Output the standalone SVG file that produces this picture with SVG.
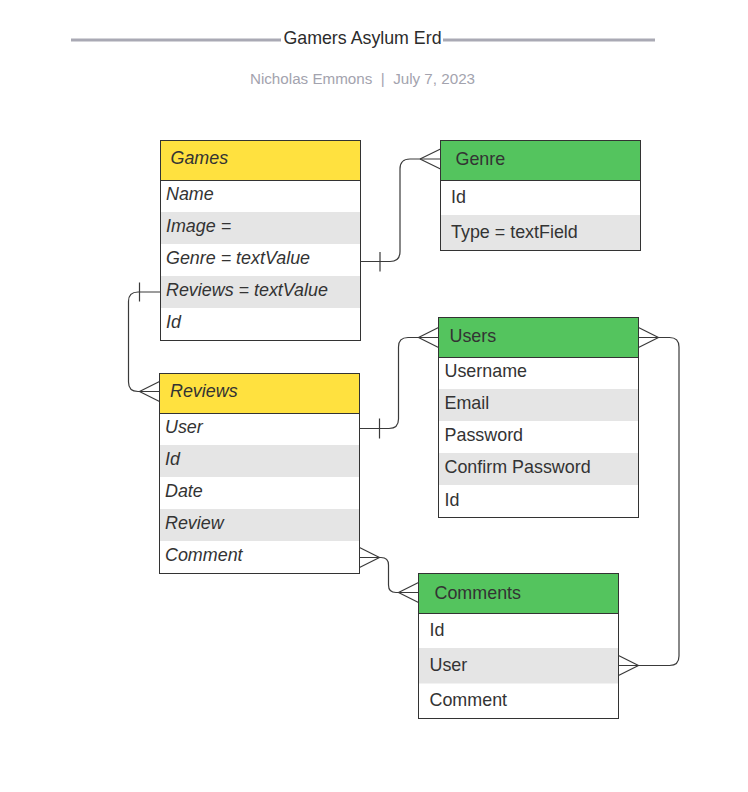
<svg xmlns="http://www.w3.org/2000/svg" width="748" height="792" viewBox="0 0 748 792">
<style>
  .t{font-family:"Liberation Sans",Arial,sans-serif;font-size:17.9px;fill:#333333}
  .i{font-style:italic}
  .box{fill:#ffffff;stroke:#333333;stroke-width:1}
  .hy{fill:#ffe13f;stroke:#333333;stroke-width:1}
  .hg{fill:#54c45e;stroke:#333333;stroke-width:1}
  .alt{fill:#e5e5e5}
  .c{fill:none;stroke:#3a3a3a;stroke-width:1.2}
  .title{font-family:"Liberation Sans",Arial,sans-serif;font-size:17.8px;fill:#2b2b2b}
  .sub{font-family:"Liberation Sans",Arial,sans-serif;font-size:15.2px;fill:#a3a3ae;white-space:pre}
</style>
<rect width="748" height="792" fill="#ffffff"/>
<g id="title">
  <line x1="71" y1="40" x2="281" y2="40" stroke="#a9a9b4" stroke-width="3"/>
  <line x1="443" y1="40" x2="655" y2="40" stroke="#a9a9b4" stroke-width="3"/>
  <text class="title" x="362.5" y="44" text-anchor="middle">Gamers Asylum Erd</text>
  <text class="sub" x="362.5" y="84" text-anchor="middle">Nicholas Emmons  |  July 7, 2023</text>
</g>
<g id="games">
  <rect class="box" x="160.5" y="140.5" width="200" height="200"/>
  <rect class="alt" x="161" y="212" width="199" height="32"/>
  <rect class="alt" x="161" y="276" width="199" height="32"/>
  <rect class="hy" x="160.5" y="140.5" width="200" height="40"/>
  <text class="t i" x="170.5" y="164">Games</text>
  <text class="t i" x="166" y="199.5">Name</text>
  <text class="t i" x="166" y="231.5">Image =</text>
  <text class="t i" x="166" y="263.5">Genre = textValue</text>
  <text class="t i" x="166" y="295.5">Reviews = textValue</text>
  <text class="t i" x="166" y="327.5">Id</text>
</g>
<g id="genre">
  <rect class="box" x="440.5" y="140.5" width="200" height="110"/>
  <rect class="alt" x="441" y="215" width="199" height="35"/>
  <rect class="hg" x="440.5" y="140.5" width="200" height="40"/>
  <text class="t" x="455.5" y="165">Genre</text>
  <text class="t" x="451" y="202.5">Id</text>
  <text class="t" x="451" y="237.5">Type = textField</text>
</g>
<g id="users">
  <rect class="box" x="438.5" y="317.5" width="200" height="200"/>
  <rect class="alt" x="439" y="389" width="199" height="32"/>
  <rect class="alt" x="439" y="453" width="199" height="32"/>
  <rect class="hg" x="438.5" y="317.5" width="200" height="40"/>
  <text class="t" x="449.5" y="342">Users</text>
  <text class="t" x="444.5" y="377">Username</text>
  <text class="t" x="444.5" y="409">Email</text>
  <text class="t" x="444.5" y="441">Password</text>
  <text class="t" x="444.5" y="473">Confirm Password</text>
  <text class="t" x="444.5" y="505.5">Id</text>
</g>
<g id="reviews">
  <rect class="box" x="159.5" y="373.5" width="200" height="200"/>
  <rect class="alt" x="160" y="445" width="199" height="32"/>
  <rect class="alt" x="160" y="509" width="199" height="32"/>
  <rect class="hy" x="159.5" y="373.5" width="200" height="40"/>
  <text class="t i" x="170" y="397">Reviews</text>
  <text class="t i" x="165" y="432.5">User</text>
  <text class="t i" x="165" y="464.5">Id</text>
  <text class="t i" x="165" y="496.5">Date</text>
  <text class="t i" x="165" y="528.5">Review</text>
  <text class="t i" x="165" y="560.5">Comment</text>
</g>
<g id="comments">
  <rect class="box" x="418.5" y="573.5" width="200" height="145"/>
  <rect class="alt" x="419" y="648" width="199" height="35.5"/>
  <rect class="hg" x="418.5" y="573.5" width="200" height="40"/>
  <text class="t" x="434.5" y="598.5">Comments</text>
  <text class="t" x="429.5" y="636">Id</text>
  <text class="t" x="429.5" y="671">User</text>
  <text class="t" x="429.5" y="705.5">Comment</text>
</g>
<g id="connectors">
  <path class="c" d="M360.5,261.5 H390 Q400,261.5 400,251.5 V169 Q400,159 410,159 H440.5"/>
  <path class="c" d="M380,252 V271.5 M420,159 L440.5,149 M420,159 L440.5,169"/>
  <path class="c" d="M160.5,292 H138 Q128.5,292 128.5,301.5 V382 Q128.5,391.5 138,391.5 H159.5"/>
  <path class="c" d="M139.5,282.5 V301.5 M139.5,391.5 L159.5,381.5 M139.5,391.5 L159.5,401.5"/>
  <path class="c" d="M359.5,428.5 H389 Q398.5,428.5 398.5,419 V347 Q398.5,337.5 408,337.5 H438.5"/>
  <path class="c" d="M379.5,418.5 V438.5 M418.5,337.5 L438.5,327.5 M418.5,337.5 L438.5,347.5"/>
  <path class="c" d="M638.5,337.5 H669.5 Q679,337.5 679,347 V656 Q679,665.5 669.5,665.5 H618.5"/>
  <path class="c" d="M658.5,337.5 L638.5,327.5 M658.5,337.5 L638.5,347.5 M638.5,665.5 L618.5,655.5 M638.5,665.5 L618.5,675.5"/>
  <path class="c" d="M359.5,557.5 H381 Q388.5,557.5 388.5,565 V585 Q388.5,592.5 396,592.5 H418.5"/>
  <path class="c" d="M379.5,557.5 L359.5,547.5 M379.5,557.5 L359.5,567.5 M398.5,592.5 L418.5,582.5 M398.5,592.5 L418.5,602.5"/>
</g>
</svg>
